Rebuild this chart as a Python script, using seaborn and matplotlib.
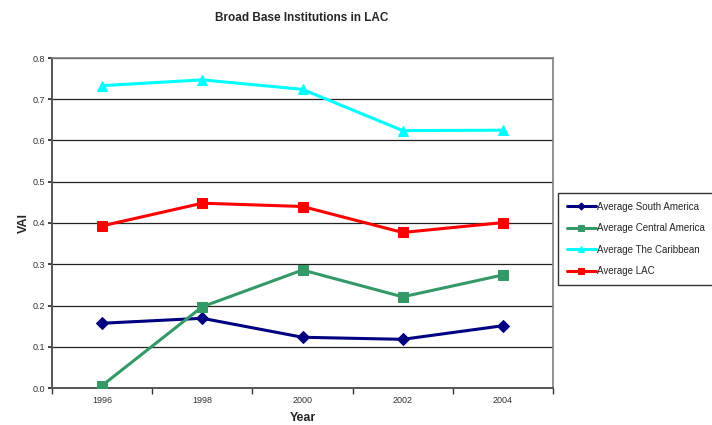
import numpy as np
import pandas as pd
import matplotlib.pyplot as plt
import seaborn as sns
from matplotlib.ticker import FixedLocator

years = [1996, 1998, 2000, 2002, 2004]
south_america = [0.157, 0.169, 0.123, 0.118, 0.151]
central_america = [0.006, 0.197, 0.286, 0.221, 0.274]
caribbean = [0.733, 0.747, 0.724, 0.624, 0.625]
lac = [0.393, 0.448, 0.440, 0.377, 0.401]

series_names = ["Average South America", "Average Central America",
                "Average The Caribbean", "Average LAC"]
series_values = [south_america, central_america, caribbean, lac]
colors = ["#000080", "#339966", "#00FFFF", "#FF0000"]
markers = ["D", "s", "^", "s"]
marker_sizes = [6, 7.5, 7.5, 7.5]

# long-form table for seaborn
df = pd.DataFrame({
    "Year": np.tile(years, len(series_names)),
    "VAI": np.concatenate(series_values),
    "series": np.repeat(series_names, len(years)),
})

sns.set_style("white")
plt.rcParams["font.family"] = ["Liberation Sans", "DejaVu Sans"]

fig = plt.figure(figsize=(7.12, 4.25), dpi=100)
ax = fig.add_axes([52 / 712, 37 / 425, 501 / 712, 330 / 425])

for name, color, marker, ms in zip(series_names, colors, markers, marker_sizes):
    sub = df[df["series"] == name]
    sns.lineplot(data=sub, x="Year", y="VAI", ax=ax, color=color,
                 marker=marker, markersize=ms, markeredgecolor=color,
                 linewidth=2.2, label=name, zorder=3)

ax.set_xlim(1995, 2005)
ax.set_ylim(0, 0.8)
ax.set_yticks(np.arange(0, 0.81, 0.1))
ax.set_yticklabels([f"{v:.1f}" for v in np.arange(0, 0.81, 0.1)])
ax.set_xticks(years)
ax.set_xticklabels([str(y) for y in years])
ax.xaxis.set_minor_locator(FixedLocator([1995, 1997, 1999, 2001, 2003, 2005]))
ax.tick_params(axis="x", which="major", bottom=True, length=0, labelsize=6.5,
               pad=6, labelcolor="#333333")
ax.tick_params(axis="x", which="minor", bottom=True, length=4, width=1,
               color="#333333", direction="out")
ax.tick_params(axis="y", which="major", left=True, length=3, width=1.2, labelsize=6.5,
               color="#222222", labelcolor="#333333", direction="out", pad=2)

ax.yaxis.grid(True, color="#222222", linewidth=0.9)
ax.set_axisbelow(True)
for side in ["left", "bottom"]:
    ax.spines[side].set_color("#555555")
    ax.spines[side].set_linewidth(1.4)
for side in ["top", "right"]:
    ax.spines[side].set_color("#808080")
    ax.spines[side].set_linewidth(1.2)

ax.set_xlabel("Year", fontsize=9, fontweight="bold", labelpad=5)
ax.set_ylabel("VAI", fontsize=9, fontweight="bold", labelpad=2)
fig.text(302 / 712, 1 - 18 / 425, "Broad Base Institutions in LAC",
         ha="center", va="center", fontsize=8.5, fontweight="bold")

leg = ax.legend(loc="center left", bbox_to_anchor=(558 / 712, 1 - 239 / 425),
                bbox_transform=fig.transFigure, fontsize=7, frameon=True,
                fancybox=False, edgecolor="black", handlelength=3,
                handletextpad=0.1, labelspacing=1.2, borderpad=0.9,
                borderaxespad=0, markerscale=0.6)
leg.get_frame().set_linewidth(1.0)

fig.savefig("out.png", dpi=100)
